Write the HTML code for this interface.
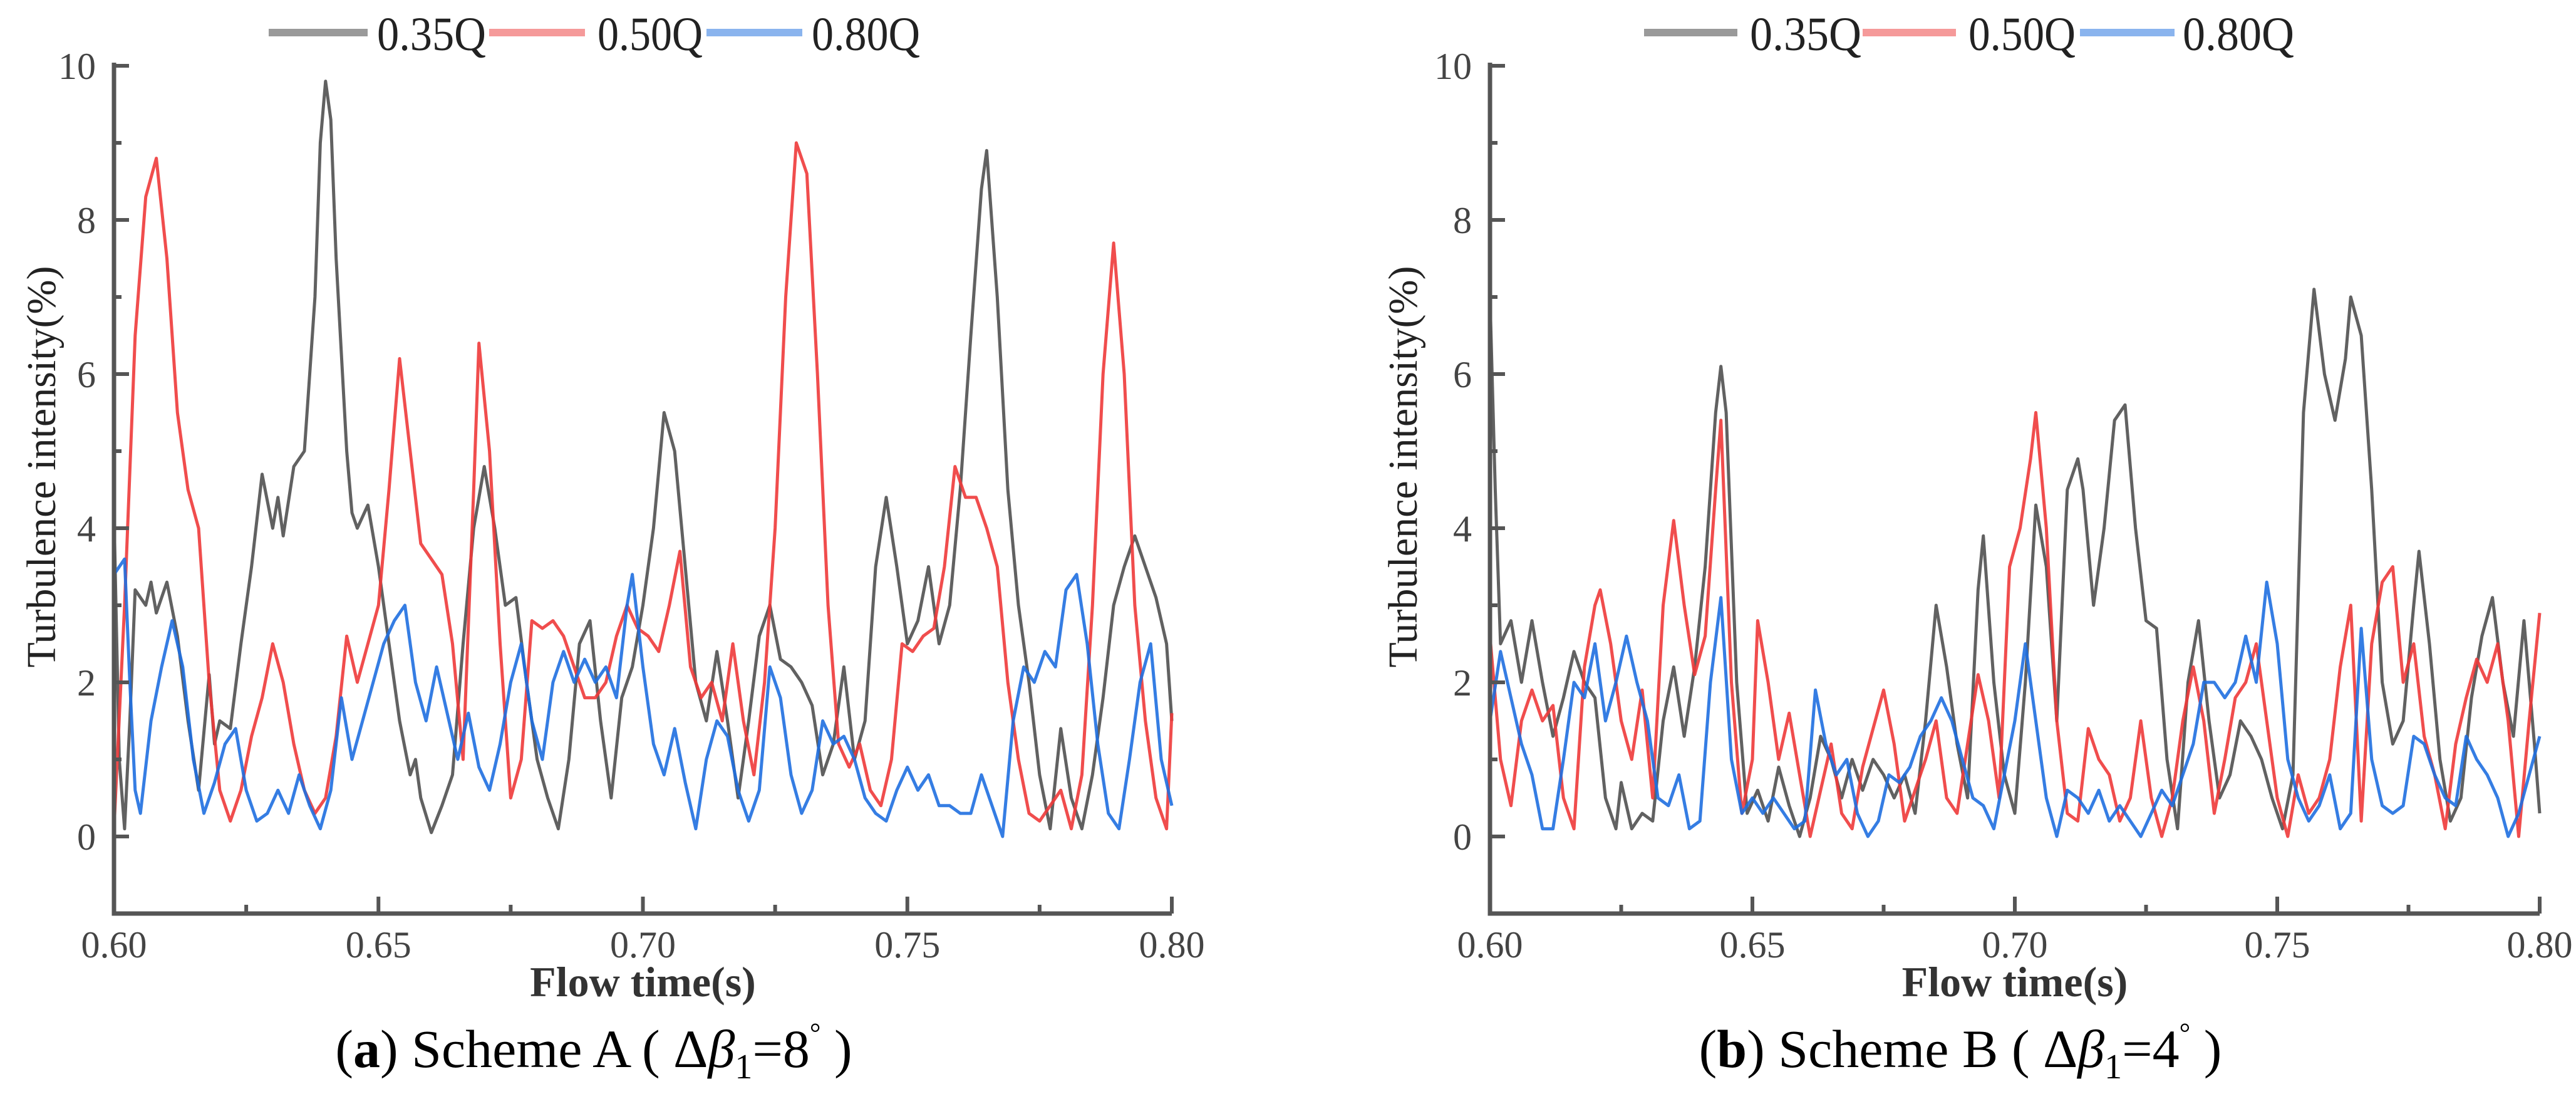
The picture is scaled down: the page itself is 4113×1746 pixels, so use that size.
<!DOCTYPE html>
<html><head><meta charset="utf-8"><style>
html,body{margin:0;padding:0;background:#fff;}
svg{display:block;}
svg text{font-family:"Liberation Serif","DejaVu Serif",serif;}
</style></head>
<body>
<svg id="fig" width="4113" height="1746" viewBox="0 0 4113 1746" xmlns="http://www.w3.org/2000/svg" font-family="Liberation Serif, serif">
<g id="chartA"></g>
<g id="chartB"></g>
<text x="948" y="1703" font-size="86" font-family="Liberation Serif, serif" text-anchor="middle" fill="#000">(<tspan font-weight="bold">a</tspan>) Scheme A ( Δ<tspan font-style="italic">β</tspan><tspan font-size="56" dy="18">1</tspan><tspan dy="-18">=8</tspan><tspan font-size="44" dy="-40">°</tspan><tspan dy="40"> )</tspan></text>
<text x="3130" y="1703" font-size="86" font-family="Liberation Serif, serif" text-anchor="middle" fill="#000">(<tspan font-weight="bold">b</tspan>) Scheme B ( Δ<tspan font-style="italic">β</tspan><tspan font-size="56" dy="18">1</tspan><tspan dy="-18">=4</tspan><tspan font-size="44" dy="-40">°</tspan><tspan dy="40"> )</tspan></text>
</svg>
<script>
const xTicks = [0.60, 0.65, 0.70, 0.75, 0.80];
const xTickLabels = ["0.60", "0.65", "0.70", "0.75", "0.80"];
const yTicks = [0, 2, 4, 6, 8, 10];
const yTickLabels = ["0", "2", "4", "6", "8", "10"];
const seriesNames = ["0.35Q", "0.50Q", "0.80Q"];

const a35 = [[0.600,4.2],[0.601,1.0],[0.602,0.1],[0.603,1.5],[0.604,3.2],[0.606,3.0],[0.607,3.3],[0.608,2.9],[0.610,3.3],[0.612,2.6],[0.614,1.5],[0.616,0.6],[0.618,2.1],[0.619,1.2],[0.620,1.5],[0.622,1.4],[0.624,2.5],[0.626,3.5],[0.628,4.7],[0.630,4.0],[0.631,4.4],[0.632,3.9],[0.634,4.8],[0.636,5.0],[0.637,6.0],[0.638,7.0],[0.639,9.0],[0.640,9.8],[0.641,9.3],[0.642,7.5],[0.644,5.0],[0.645,4.2],[0.646,4.0],[0.648,4.3],[0.650,3.5],[0.652,2.5],[0.654,1.5],[0.656,0.8],[0.657,1.0],[0.658,0.5],[0.660,0.05],[0.662,0.4],[0.664,0.8],[0.666,2.5],[0.668,4.0],[0.670,4.8],[0.672,4.0],[0.674,3.0],[0.676,3.1],[0.678,2.0],[0.680,1.0],[0.682,0.5],[0.684,0.1],[0.686,1.0],[0.688,2.5],[0.690,2.8],[0.692,1.5],[0.694,0.5],[0.696,1.8],[0.698,2.2],[0.700,3.0],[0.702,4.0],[0.704,5.5],[0.706,5.0],[0.708,3.5],[0.710,2.0],[0.712,1.5],[0.714,2.4],[0.716,1.5],[0.718,0.5],[0.720,1.5],[0.722,2.6],[0.724,3.0],[0.726,2.3],[0.728,2.2],[0.730,2.0],[0.732,1.7],[0.734,0.8],[0.736,1.2],[0.738,2.2],[0.740,1.0],[0.742,1.5],[0.744,3.5],[0.746,4.4],[0.748,3.5],[0.750,2.5],[0.752,2.8],[0.754,3.5],[0.756,2.5],[0.758,3.0],[0.760,4.5],[0.762,6.5],[0.764,8.4],[0.765,8.9],[0.767,7.0],[0.769,4.5],[0.771,3.0],[0.773,2.0],[0.775,0.8],[0.777,0.1],[0.779,1.4],[0.781,0.5],[0.783,0.1],[0.785,0.8],[0.787,1.8],[0.789,3.0],[0.791,3.5],[0.793,3.9],[0.795,3.5],[0.797,3.1],[0.799,2.5],[0.800,1.5]];
const a50 = [[0.600,0.1],[0.602,3.0],[0.604,6.5],[0.606,8.3],[0.608,8.8],[0.610,7.5],[0.612,5.5],[0.614,4.5],[0.616,4.0],[0.618,2.0],[0.620,0.6],[0.622,0.2],[0.624,0.6],[0.626,1.3],[0.628,1.8],[0.630,2.5],[0.632,2.0],[0.634,1.2],[0.636,0.6],[0.638,0.3],[0.640,0.5],[0.642,1.3],[0.644,2.6],[0.646,2.0],[0.648,2.5],[0.650,3.0],[0.652,4.5],[0.654,6.2],[0.656,5.0],[0.658,3.8],[0.660,3.6],[0.662,3.4],[0.664,2.5],[0.666,1.0],[0.668,4.5],[0.669,6.4],[0.671,5.0],[0.673,2.5],[0.675,0.5],[0.677,1.0],[0.679,2.8],[0.681,2.7],[0.683,2.8],[0.685,2.6],[0.687,2.2],[0.689,1.8],[0.691,1.8],[0.693,2.0],[0.695,2.6],[0.697,3.0],[0.699,2.7],[0.701,2.6],[0.703,2.4],[0.705,3.0],[0.707,3.7],[0.709,2.2],[0.711,1.8],[0.713,2.0],[0.715,1.5],[0.717,2.5],[0.719,1.5],[0.721,0.8],[0.723,2.0],[0.725,4.0],[0.727,7.0],[0.729,9.0],[0.731,8.6],[0.733,6.0],[0.735,3.0],[0.737,1.2],[0.739,0.9],[0.741,1.2],[0.743,0.6],[0.745,0.4],[0.747,1.0],[0.749,2.5],[0.751,2.4],[0.753,2.6],[0.755,2.7],[0.757,3.5],[0.759,4.8],[0.761,4.4],[0.763,4.4],[0.765,4.0],[0.767,3.5],[0.769,2.0],[0.771,1.0],[0.773,0.3],[0.775,0.2],[0.777,0.4],[0.779,0.6],[0.781,0.1],[0.783,0.8],[0.785,3.0],[0.787,6.0],[0.789,7.7],[0.791,6.0],[0.793,3.0],[0.795,1.5],[0.797,0.5],[0.799,0.1],[0.800,1.6]];
const a80 = [[0.600,3.4],[0.602,3.6],[0.603,2.0],[0.604,0.6],[0.605,0.3],[0.607,1.5],[0.609,2.2],[0.611,2.8],[0.613,2.2],[0.615,1.0],[0.617,0.3],[0.619,0.7],[0.621,1.2],[0.623,1.4],[0.625,0.6],[0.627,0.2],[0.629,0.3],[0.631,0.6],[0.633,0.3],[0.635,0.8],[0.637,0.4],[0.639,0.1],[0.641,0.6],[0.643,1.8],[0.645,1.0],[0.647,1.5],[0.649,2.0],[0.651,2.5],[0.653,2.8],[0.655,3.0],[0.657,2.0],[0.659,1.5],[0.661,2.2],[0.663,1.6],[0.665,1.0],[0.667,1.6],[0.669,0.9],[0.671,0.6],[0.673,1.2],[0.675,2.0],[0.677,2.5],[0.679,1.5],[0.681,1.0],[0.683,2.0],[0.685,2.4],[0.687,2.0],[0.689,2.3],[0.691,2.0],[0.693,2.2],[0.695,1.8],[0.697,3.0],[0.698,3.4],[0.700,2.2],[0.702,1.2],[0.704,0.8],[0.706,1.4],[0.708,0.7],[0.710,0.1],[0.712,1.0],[0.714,1.5],[0.716,1.3],[0.718,0.6],[0.720,0.2],[0.722,0.6],[0.724,2.2],[0.726,1.8],[0.728,0.8],[0.730,0.3],[0.732,0.6],[0.734,1.5],[0.736,1.2],[0.738,1.3],[0.740,1.0],[0.742,0.5],[0.744,0.3],[0.746,0.2],[0.748,0.6],[0.750,0.9],[0.752,0.6],[0.754,0.8],[0.756,0.4],[0.758,0.4],[0.760,0.3],[0.762,0.3],[0.764,0.8],[0.766,0.4],[0.768,0.0],[0.770,1.5],[0.772,2.2],[0.774,2.0],[0.776,2.4],[0.778,2.2],[0.780,3.2],[0.782,3.4],[0.784,2.5],[0.786,1.2],[0.788,0.3],[0.790,0.1],[0.792,1.0],[0.794,2.0],[0.796,2.5],[0.798,1.0],[0.800,0.4]];

const b35 = [[0.600,7.0],[0.601,4.5],[0.602,2.5],[0.604,2.8],[0.606,2.0],[0.608,2.8],[0.610,2.0],[0.612,1.3],[0.614,1.8],[0.616,2.4],[0.618,2.0],[0.620,1.8],[0.622,0.5],[0.624,0.1],[0.625,0.7],[0.627,0.1],[0.629,0.3],[0.631,0.2],[0.633,1.5],[0.635,2.2],[0.637,1.3],[0.639,2.2],[0.641,3.5],[0.643,5.5],[0.644,6.1],[0.645,5.5],[0.647,2.0],[0.649,0.3],[0.651,0.6],[0.653,0.2],[0.655,0.9],[0.657,0.4],[0.659,0.0],[0.661,0.5],[0.663,1.3],[0.665,1.0],[0.667,0.5],[0.669,1.0],[0.671,0.6],[0.673,1.0],[0.675,0.8],[0.677,0.5],[0.679,0.8],[0.681,0.3],[0.683,1.5],[0.685,3.0],[0.687,2.2],[0.689,1.2],[0.691,0.5],[0.693,3.2],[0.694,3.9],[0.696,2.0],[0.698,0.8],[0.700,0.3],[0.702,2.0],[0.704,4.3],[0.706,3.5],[0.708,1.5],[0.710,4.5],[0.712,4.9],[0.713,4.5],[0.715,3.0],[0.717,4.0],[0.719,5.4],[0.721,5.6],[0.723,4.0],[0.725,2.8],[0.727,2.7],[0.729,1.0],[0.731,0.1],[0.733,2.0],[0.735,2.8],[0.737,1.5],[0.739,0.5],[0.741,0.8],[0.743,1.5],[0.745,1.3],[0.747,1.0],[0.749,0.5],[0.751,0.1],[0.753,0.8],[0.755,5.5],[0.757,7.1],[0.759,6.0],[0.761,5.4],[0.763,6.2],[0.764,7.0],[0.766,6.5],[0.768,4.5],[0.770,2.0],[0.772,1.2],[0.774,1.5],[0.776,3.0],[0.777,3.7],[0.779,2.5],[0.781,1.0],[0.783,0.2],[0.785,0.5],[0.787,1.8],[0.789,2.6],[0.791,3.1],[0.793,2.0],[0.795,1.3],[0.797,2.8],[0.799,1.2],[0.800,0.3]];
const b50 = [[0.600,2.6],[0.602,1.0],[0.604,0.4],[0.606,1.5],[0.608,1.9],[0.610,1.5],[0.612,1.7],[0.614,0.5],[0.616,0.1],[0.618,2.2],[0.620,3.0],[0.621,3.2],[0.623,2.5],[0.625,1.5],[0.627,1.0],[0.629,1.9],[0.631,0.5],[0.633,3.0],[0.635,4.1],[0.637,3.0],[0.639,2.1],[0.641,2.6],[0.643,4.5],[0.644,5.4],[0.646,2.0],[0.648,0.3],[0.650,1.0],[0.651,2.8],[0.653,2.0],[0.655,1.0],[0.657,1.6],[0.659,0.8],[0.661,0.0],[0.663,0.6],[0.665,1.2],[0.667,0.3],[0.669,0.1],[0.671,0.9],[0.673,1.4],[0.675,1.9],[0.677,1.2],[0.679,0.2],[0.681,0.6],[0.683,1.0],[0.685,1.5],[0.687,0.5],[0.689,0.3],[0.691,1.2],[0.693,2.1],[0.695,1.5],[0.697,0.5],[0.699,3.5],[0.701,4.0],[0.703,4.9],[0.704,5.5],[0.706,4.0],[0.708,1.5],[0.710,0.3],[0.712,0.2],[0.714,1.4],[0.716,1.0],[0.718,0.8],[0.720,0.2],[0.722,0.5],[0.724,1.5],[0.726,0.5],[0.728,0.0],[0.730,0.5],[0.732,1.5],[0.734,2.2],[0.736,1.5],[0.738,0.3],[0.740,1.0],[0.742,1.8],[0.744,2.0],[0.746,2.5],[0.748,1.5],[0.750,0.5],[0.752,0.0],[0.754,0.8],[0.756,0.3],[0.758,0.5],[0.760,1.0],[0.762,2.2],[0.764,3.0],[0.766,0.2],[0.768,2.5],[0.770,3.3],[0.772,3.5],[0.774,2.0],[0.776,2.5],[0.778,1.3],[0.780,0.8],[0.782,0.1],[0.784,1.2],[0.786,1.8],[0.788,2.3],[0.790,2.0],[0.792,2.5],[0.794,1.5],[0.796,0.0],[0.798,1.5],[0.800,2.9]];
const b80 = [[0.600,1.5],[0.602,2.4],[0.604,1.8],[0.606,1.2],[0.608,0.8],[0.610,0.1],[0.612,0.1],[0.614,1.0],[0.616,2.0],[0.618,1.8],[0.620,2.5],[0.622,1.5],[0.624,2.0],[0.626,2.6],[0.628,2.0],[0.630,1.5],[0.632,0.5],[0.634,0.4],[0.636,0.8],[0.638,0.1],[0.640,0.2],[0.642,2.0],[0.644,3.1],[0.646,1.0],[0.648,0.3],[0.650,0.5],[0.652,0.3],[0.654,0.5],[0.656,0.3],[0.658,0.1],[0.660,0.2],[0.662,1.9],[0.664,1.2],[0.666,0.8],[0.668,1.0],[0.670,0.3],[0.672,0.0],[0.674,0.2],[0.676,0.8],[0.678,0.7],[0.680,0.9],[0.682,1.3],[0.684,1.5],[0.686,1.8],[0.688,1.5],[0.690,1.0],[0.692,0.5],[0.694,0.4],[0.696,0.1],[0.698,0.8],[0.700,1.5],[0.702,2.5],[0.704,1.5],[0.706,0.5],[0.708,0.0],[0.710,0.6],[0.712,0.5],[0.714,0.3],[0.716,0.6],[0.718,0.2],[0.720,0.4],[0.722,0.2],[0.724,0.0],[0.726,0.3],[0.728,0.6],[0.730,0.4],[0.732,0.8],[0.734,1.2],[0.736,2.0],[0.738,2.0],[0.740,1.8],[0.742,2.0],[0.744,2.6],[0.746,2.0],[0.748,3.3],[0.750,2.5],[0.752,1.0],[0.754,0.5],[0.756,0.2],[0.758,0.4],[0.760,0.8],[0.762,0.1],[0.764,0.3],[0.766,2.7],[0.768,1.0],[0.770,0.4],[0.772,0.3],[0.774,0.4],[0.776,1.3],[0.778,1.2],[0.780,0.8],[0.782,0.5],[0.784,0.4],[0.786,1.3],[0.788,1.0],[0.790,0.8],[0.792,0.5],[0.794,0.0],[0.796,0.3],[0.798,0.8],[0.800,1.3]];

const NS = "http://www.w3.org/2000/svg";
const FONT = "Liberation Serif, serif";
const colors = ["#505050", "#ee3a3a", "#1f6fe0"];
const legendColors = ["#9a9a9a", "#f59a9a", "#8ab4ee"];

function mk(parent, tag, attrs, txt) {
  const e = document.createElementNS(NS, tag);
  for (const k in attrs) e.setAttribute(k, attrs[k]);
  if (tag === "text") e.setAttribute("font-family", FONT);
  if (txt !== undefined) e.textContent = txt;
  parent.appendChild(e);
  return e;
}

function drawChart(g, cfg, series, suffix) {
  const x0 = cfg.x0, x1 = cfg.x1, yTop = 105, yZero = 1335;
  const xs = t => x0 + (t - 0.60) / 0.20 * (x1 - x0);
  const ys = v => yZero - v * (yZero - yTop) / 10;
  const yBot = ys(-1);
  [0, 1, 2].forEach(i => {
    const pts = series[i].map(p => xs(p[0]).toFixed(1) + "," + ys(p[1]).toFixed(1)).join(" ");
    const pl = mk(g, "polyline", {points: pts, fill: "none", stroke: colors[i], "stroke-width": 5, "stroke-linejoin": "round", opacity: 0.9});
    
    
  });
  const ax = mk(g, "path", {d: `M${x0},${ys(10)-5} L${x0},${yBot} L${x1},${yBot}`, fill: "none", stroke: "#555", "stroke-width": 7});
  
  
  xTicks.forEach((t, i) => {
    const tk = mk(g, "line", {x1: xs(t), x2: xs(t), y1: yBot, y2: yBot - 27, stroke: "#555", "stroke-width": 6});
    
    
    const lb = mk(g, "text", {x: xs(t), y: 1528, "font-size": 60, "text-anchor": "middle", fill: "#444"}, xTickLabels[i]);
    
    
    if (i < xTicks.length - 1) {
      const m = mk(g, "line", {x1: xs(t + 0.025), x2: xs(t + 0.025), y1: yBot, y2: yBot - 14, stroke: "#555", "stroke-width": 6});
      
      
    }
  });
  yTicks.forEach((v, i) => {
    const tk = mk(g, "line", {x1: x0, x2: x0 + 24, y1: ys(v), y2: ys(v), stroke: "#555", "stroke-width": 6});
    
    
    const lb = mk(g, "text", {x: x0 - 29, y: ys(v) + 21, "font-size": 60, "text-anchor": "end", fill: "#444"}, yTickLabels[i]);
    
    
    if (v < 10) {
      const m = mk(g, "line", {x1: x0, x2: x0 + 12, y1: ys(v + 1), y2: ys(v + 1), stroke: "#555", "stroke-width": 6});
      
      
    }
  });
  const yt = mk(g, "text", {x: 0, y: 0, "font-size": 66, "text-anchor": "middle", fill: "#222", transform: `translate(${cfg.ytx},745) rotate(-90)`}, "Turbulence intensity(%)");
  
  
  const xt = mk(g, "text", {x: (x0 + x1) / 2, y: 1590, "font-size": 68, "font-weight": "bold", "text-anchor": "middle", fill: "#333"}, "Flow time(s)");
  
  
  cfg.legend.forEach((L, i) => {
    const ln = mk(g, "line", {x1: L[0], x2: L[1], y1: 52, y2: 52, stroke: legendColors[i], "stroke-width": 12});
    
    
    const tx = mk(g, "text", {x: L[2], y: 80, "font-size": 76, fill: "#222", textLength: L[3] - L[2], lengthAdjust: "spacingAndGlyphs"}, seriesNames[i]);
    
    
  });
}

drawChart(document.getElementById("chartA"),
  {x0: 182, x1: 1871, ytx: 88, legend: [[429, 587, 602, 776], [781, 934, 954, 1122], [1128, 1281, 1296, 1469]]},
  [a35, a50, a80], "a");
drawChart(document.getElementById("chartB"),
  {x0: 2379, x1: 4055, ytx: 2262, legend: [[2625, 2774, 2794, 2972], [2974, 3123, 3143, 3314], [3321, 3472, 3485, 3663]]},
  [b35, b50, b80], "b");
</script>
</body></html>
